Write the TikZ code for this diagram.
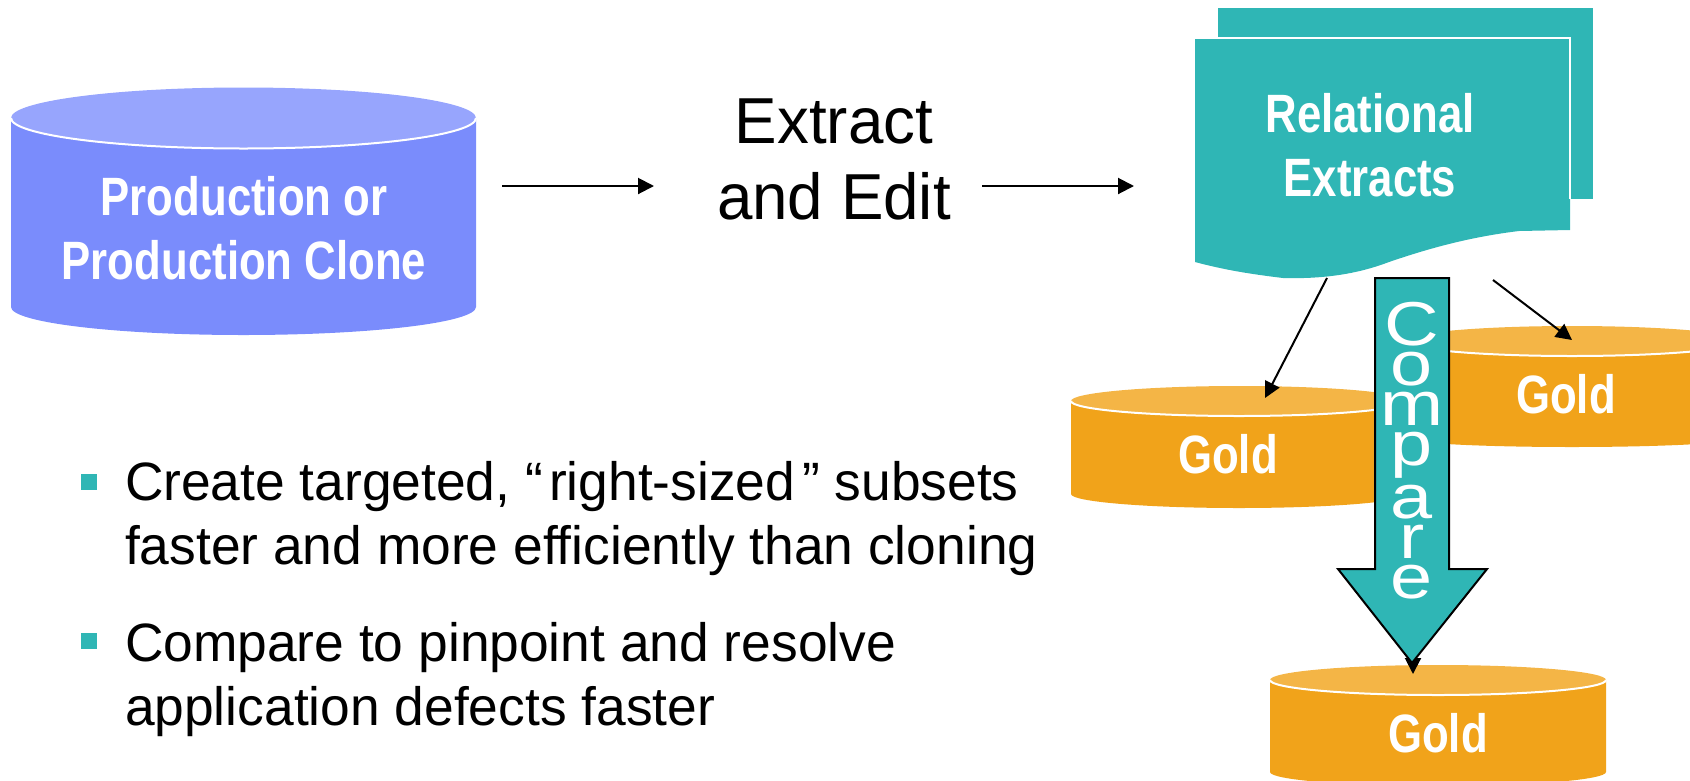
\documentclass[tikz,border=0pt]{standalone}
\usepackage{fontspec}
\setmainfont[FakeStretch=0.988]{Liberation Sans}
\newfontfamily\lblfont[FakeStretch=0.81]{Liberation Sans}
\newfontfamily\cmpfont[FakeStretch=1.22]{Liberation Sans}
\newfontfamily\editfont[FakeStretch=0.98]{Liberation Sans}
\usetikzlibrary{arrows.meta}
\definecolor{bluebody}{HTML}{7A8CFC}
\definecolor{bluetop}{HTML}{97A5FD}
\definecolor{teal2}{HTML}{2FB6B5}
\definecolor{goldbody}{HTML}{F1A31A}
\definecolor{goldtop}{HTML}{F4B546}
\newcommand{\cmpsetup}{\setlength{\lineskiplimit}{-100pt}\setlength{\baselineskip}{40pt}}
\tikzset{
  x=1pt,y=-1pt,
  lbl/.style={text=white,inner sep=0pt,outer sep=0pt,align=center,font=\lblfont\bfseries\fontsize{54}{64}\selectfont},
  goldlbl/.style={lbl,anchor=base},
  body/.style={inner sep=0pt,outer sep=0pt,anchor=north west,align=left,font=\fontsize{54}{64}\selectfont},
  conn/.style={line width=2pt,-{Triangle[length=16pt,width=16pt]}},
  sq/.style={fill=teal2,draw=none,minimum size=16pt,inner sep=0pt,outer sep=0pt},
  rim/.style={white,line width=2pt},
}
% #1 cx, #2 rx, #3 ellipse centre y, #4 ry, #5 side bottom y, #6 bottom ry, #7 body colour, #8 top colour
\newcommand{\drumshape}[8]{%
  \fill[#7] (#1-#2,#3) -- (#1-#2,#5) arc[start angle=180,end angle=360,x radius=#2,y radius=-#6] -- (#1+#2,#3) -- cycle;
  \fill[#8] (#1,#3) ellipse[x radius=#2,y radius=#4];
  \draw[rim] (#1-#2,#3) arc[start angle=180,end angle=360,x radius=#2,y radius=-#4];
}
\begin{document}
\begin{tikzpicture}
\useasboundingbox (0,0) rectangle (1690,780);
\clip (0,0) rectangle (1690,780);

% source drum
\drumshape{243.5}{232.5}{118}{30.5}{307}{28}{bluebody}{bluetop}
\node[lbl] (prod) at (244,228) {Production or\\Production Clone};

% connectors in the top row
\coordinate (a1s) at (502,186);
\coordinate (a1e) at (654,186);
\coordinate (a2s) at (982,186);
\coordinate (a2e) at (1134,186);
\draw[conn] (a1s) -- (a1e);
\draw[conn] (a2s) -- (a2e);
\node[inner sep=0pt,outer sep=0pt,align=center,font=\editfont\fontsize{65}{76}\selectfont] (edit) at (834,159) {Extract\\and Edit};

% extract document stack
\fill[teal2] (1218,8) rectangle (1593,199);
\fill[teal2] (1195,38) -- (1570,38) -- (1570,230) -- (1519,231)
  .. controls (1470,237) and (1430,248) .. (1389,262)
  .. controls (1355,275) and (1320,279) .. (1283,278)
  .. controls (1250,274) and (1225,270) .. (1195,262) -- cycle;
\draw[rim] (1195,38) -- (1570,38) -- (1570,199);
\node[lbl] (rel) at (1370,145) {Relational\\Extracts};

% gold drums
\drumshape{1572}{168}{341}{15}{438}{9}{goldbody}{goldtop}
\drumshape{1239}{168}{401}{15}{494}{14}{goldbody}{goldtop}
\drumshape{1438}{168}{680}{15}{772}{14}{goldbody}{goldtop}
\node[goldlbl] (g1) at (1566,413) {Gold};
\node[goldlbl] (g2) at (1228,473) {Gold};
\node[goldlbl] (g3) at (1438,752) {Gold};

% connectors to the gold drums
\coordinate (d1s) at (1327,278);
\coordinate (d1e) at (1265,398);
\coordinate (d2s) at (1493,280);
\coordinate (d2e) at (1572,340);
\coordinate (d3s) at (1413,300);
\coordinate (d3e) at (1413,674);
\draw[conn] (d1s) -- (d1e);
\draw[conn] (d2s) -- (d2e);
\draw[conn] (d3s) -- (d3e);

% compare block arrow
\draw[fill=teal2,draw=black,line width=2pt,line join=miter]
  (1375,278) -- (1449,278) -- (1449,569) -- (1487,569) -- (1412,663) -- (1338,569) -- (1375,569) -- cycle;
\node[text=white,inner sep=0pt,outer sep=0pt,align=center,
      font=\cmpfont\fontsize{62}{40}\selectfont\cmpsetup] (cmp) at (1412,451)
  {C\\o\\m\\p\\[13pt]a\\r\\e};

% bullets
\node[sq] (b1) at (89,482) {};
\node[sq] (b2) at (89,641) {};
\node[body] (t1) at (125,461) {Create targeted, “\hspace{6pt}right-sized\hspace{7pt}” subsets\\faster and more efficiently than cloning};
\node[body] (t2) at (125,622) {Compare to pinpoint and resolve\\application defects faster};
\end{tikzpicture}
\end{document}
